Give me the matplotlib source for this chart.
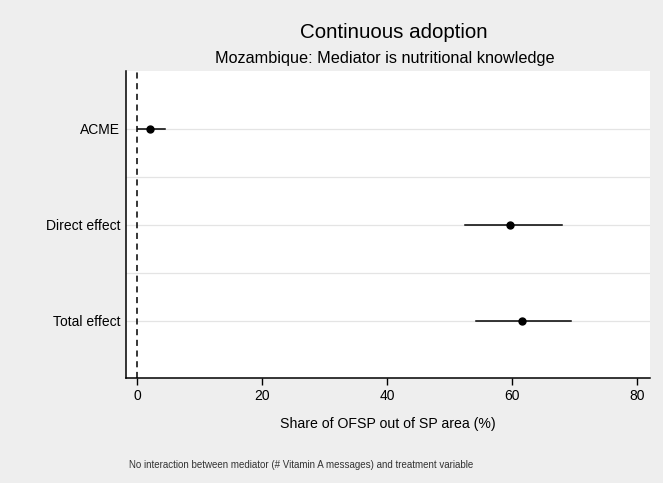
import matplotlib.pyplot as plt

plt.rcParams['font.family'] = ['Liberation Sans', 'DejaVu Sans']

effects = ["ACME", "Direct effect", "Total effect"]
estimate = [2.1, 59.7, 61.6]
ci_low = [0.1, 52.4, 54.2]
ci_high = [4.5, 68.0, 69.4]
xticks = [0, 20, 40, 60, 80]

fig = plt.figure(figsize=(6.63, 4.83), dpi=100)
fig.patch.set_facecolor('#eeeeee')
ax = fig.add_axes([0.190, 0.217, 0.790, 0.636])
ax.set_facecolor('white')

rows = list(range(1, len(effects) + 1))

# light row grid
for r in [0.5 + 0.5 * i for i in range(1, 6)]:
    ax.axhline(r, color='#e4e4e4', lw=0.9, zorder=0)

ax.axvline(0, color='black', ls=(0, (4, 3)), lw=1.1, zorder=1)

for r, est, lo, hi in zip(rows, estimate, ci_low, ci_high):
    ax.plot([lo, hi], [r, r], color='black', lw=1.1, zorder=2)
ax.plot(estimate, rows, 'o', color='black', ms=5, zorder=3)

ax.set_ylim(3.6, 0.4)
ax.set_xlim(-1.76, 82)
ax.set_yticks(rows)
ax.set_yticklabels(effects, fontsize=10)
ax.tick_params(axis='y', length=0, pad=4)
ax.set_xticks(xticks)
ax.set_xticklabels([str(t) for t in xticks], fontsize=10)
ax.tick_params(axis='x', length=5, width=1, pad=3)

for s in ['top', 'right']:
    ax.spines[s].set_visible(False)
for s in ['left', 'bottom']:
    ax.spines[s].set_linewidth(1.1)

ax.set_xlabel("Share of OFSP out of SP area (%)", fontsize=10.2, labelpad=10)

fig.text(0.594, 0.932, "Continuous adoption", ha='center', va='center', fontsize=14.8)
fig.text(0.581, 0.878, "Mozambique: Mediator is nutritional knowledge", ha='center', va='center', fontsize=11.7)
fig.text(0.195, 0.038, "No interaction between mediator (# Vitamin A messages) and treatment variable",
         ha='left', va='center', fontsize=7, color='#333333')

fig.savefig('out.png', dpi=100, facecolor=fig.get_facecolor())
